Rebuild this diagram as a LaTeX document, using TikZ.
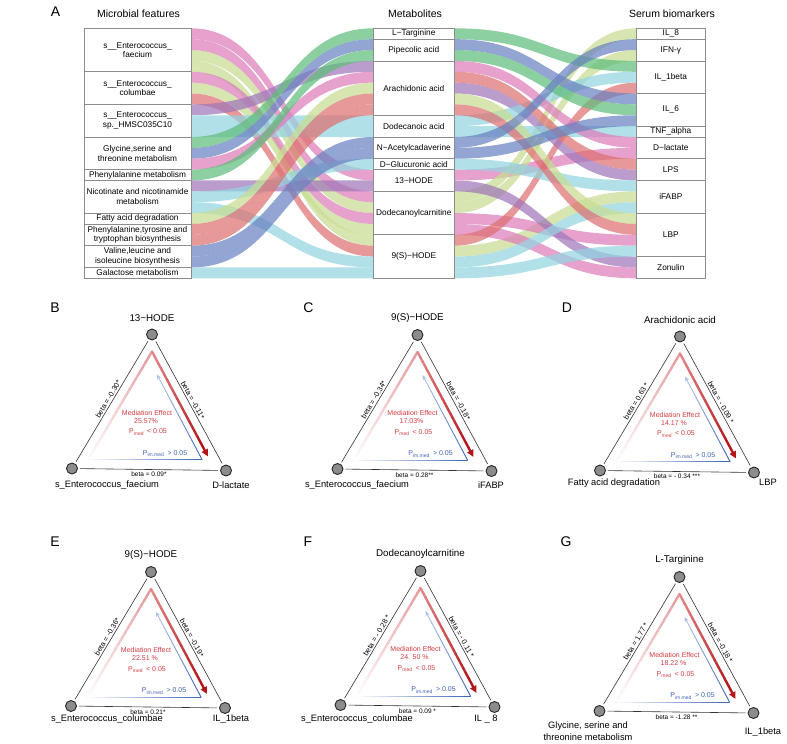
\documentclass[tikz,border=0pt]{standalone}
\usepackage{fontspec}
\setmainfont{Liberation Sans}
\usetikzlibrary{arrows.meta,calc,positioning}

\definecolor{fpink}{HTML}{DC7DBA}
\definecolor{fyg}{HTML}{C8DC92}
\definecolor{fgreen}{HTML}{5FBD7C}
\definecolor{fblue}{HTML}{6A82C0}
\definecolor{fred}{HTML}{DE7070}
\definecolor{fpurple}{HTML}{A077B8}
\definecolor{flb}{HTML}{93D4E0}
\definecolor{boxgray}{HTML}{8C8C8C}
\definecolor{redD}{HTML}{B2151B}
\definecolor{redM}{HTML}{E48A8C}
\definecolor{redL}{HTML}{E39A9E}
\definecolor{blueD}{HTML}{3A63B8}
\definecolor{blueL}{HTML}{A9BFE4}
\definecolor{medred}{HTML}{D23A40}
\definecolor{medblue}{HTML}{3D5FB2}

\tikzset{
  stratum/.style={draw=boxgray, line width=0.7pt, fill=white, inner sep=0pt, align=center,
    font=\fontsize{8.3}{9.6}\selectfont},
  header/.style={font=\fontsize{10.5}{12}\selectfont},
  panel/.style={font=\fontsize{14}{16}\selectfont},
  dot/.style={circle, draw=black!85, fill=black!45, line width=0.9pt, minimum size=11pt, inner sep=0pt},
  side/.style={draw=black!80, line width=0.6pt, shorten <=2pt, shorten >=2pt},
  beta/.style={font=\fontsize{7.3}{8.5}\selectfont, inner sep=1.5pt},
  bbeta/.style={font=\fontsize{6.5}{7.5}\selectfont, inner sep=2pt},
  toplab/.style={font=\fontsize{9.8}{11}\selectfont},
  botlab/.style={font=\fontsize{9.3}{11.5}\selectfont, align=center},
  medtxt/.style={text=medred, font=\fontsize{7}{8}\selectfont, inner sep=0pt},
  imtxt/.style={text=medblue, font=\fontsize{7}{8}\selectfont, inner sep=0pt},
}

\def\slotu{10.87}

% one flow between two axes
\newcommand{\band}[5]{%
  \pgfmathsetmacro\xm{(#1+#3)/2}%
  \fill[#5, fill opacity=0.72] (#1,#2) .. controls (\xm,#2) and (\xm,#4) .. (#3,#4)
    -- (#3,{#4+\slotu}) .. controls (\xm,{#4+\slotu}) and (\xm,{#2+\slotu}) .. (#1,{#2+\slotu}) -- cycle;}

% colour fading line
\newcommand{\fade}[5]{%
  \foreach \k in {0,...,19}{%
    \pgfmathsetmacro\fa{\k/20}%
    \pgfmathsetmacro\fb{(\k+1)/20}%
    \pgfmathtruncatemacro\fm{(\k+0.5)*5}%
    \draw[#4!\fm!#3, line width=#5, line cap=round] ($(#1)!\fa!(#2)$) -- ($(#1)!\fb!(#2)$);}}

% mediation triangle
\newcommand{\medtri}[7]{%
  \begin{scope}[shift={(#2)}]
    \node[dot] (#1top) at (0,0) {};
    \node[dot] (#1x) at (-80,134) {};
    \node[dot] (#1y) at (74,136) {};
    \node[toplab, above=3pt of #1top] (#1name) {#3};
    \draw[side] (#1top) -- node[beta, sloped, above] {#4} (#1x);
    \draw[side] (#1top) -- node[beta, sloped, above] {#5} (#1y);
    \draw[side] (#1x) -- node[bbeta, below] (#1bb) {#6} (#1y);
    \coordinate (#1ra) at (-65,127);
    \coordinate (#1rp) at (0,17);
    \coordinate (#1rb) at (56,122);
    \coordinate (#1rc) at ($(#1rp)!0.9!(#1rb)$);
    \coordinate (#1ba) at (-64,125);
    \coordinate (#1bc) at (50,125);
    \coordinate (#1bt) at (5,40);
    \coordinate (#1bd) at ($(#1bc)!0.9!(#1bt)$);
    \fade{#1ra}{#1rp}{white}{redL}{2.4pt}
    \fade{#1rp}{#1rc}{redM}{redD}{2.4pt}
    \draw[redD, line width=2.4pt, -{Triangle[length=7pt,width=6.5pt]}] (#1rc) -- (#1rb);
    \fade{#1ba}{#1bc}{white}{blueD}{0.9pt}
    \fade{#1bc}{#1bd}{blueD}{blueL}{0.9pt}
    \draw[blueL, line width=0.9pt, -{Stealth[length=5pt,width=4pt]}] (#1bd) -- (#1bt);
    \node[medtxt] (#1m1) at (-5,78) {Mediation Effect};
    \node[medtxt] (#1m2) at (-6,86.5) {#7};
    \node[medtxt] (#1m3) at (-4,97.5) {P\textsubscript{med}\, < 0.05};
    \node[imtxt] (#1m4) at (13,119) {P\textsubscript{im.med}\, > 0.05};
  \end{scope}}

\begin{document}
\begin{tikzpicture}[x=1pt, y=-1pt]
\useasboundingbox (0,0) rectangle (787,744);

% ---- A: alluvial plot
\node[panel] (pa) at (55.5,12) {A};
\node[header] (hmic) at (138.5,14) {Microbial features};
\node[header] (hmet) at (415,14) {Metabolites};
\node[header] (hser) at (672,14) {Serum biomarkers};

\foreach \l/\ml/\mr/\r/\c in {0/13/13/11/fpink, 3/19/20/15/fyg, 2/16/16/2/fyg, 1/15/17/19/fpink,
    5/18/15/0/fyg, 4/17/18/22/fpink, 6/20/19/5/fred, 7/3/5/13/fpurple, 8/8/8/4/flb,
    9/9/9/9/flb, 10/0/0/3/fgreen, 11/1/1/6/fblue, 12/4/3/10/fpink, 13/2/2/7/fgreen,
    14/14/14/21/fpurple, 15/12/12/14/flb, 16/21/21/16/flb, 17/5/6/17/fyg, 18/6/4/12/fred,
    19/7/7/18/fred, 20/10/10/1/fblue, 21/11/11/8/fblue, 22/22/22/20/flb}{
  \pgfmathsetmacro\ya{28.3+\l*\slotu}
  \pgfmathsetmacro\yb{28.3+\ml*\slotu}
  \pgfmathsetmacro\yc{28.3+\mr*\slotu}
  \pgfmathsetmacro\yd{28.3+\r*\slotu}
  \band{191}{\ya}{373.3}{\yb}{\c}
  \band{454.3}{\yc}{636.3}{\yd}{\c}
}

\foreach \nm/\s/\n/\txt in {faecium/0/4/{s\_\_Enterococcus\_\\faecium},
    columbae/4/3/{s\_\_Enterococcus\_\\columbae},
    hmsc/7/3/{s\_\_Enterococcus\_\\sp.\_HMSC035C10},
    glycine/10/3/{Glycine,serine and\\threonine metabolism},
    phenyl/13/1/{Phenylalanine metabolism},
    nicotin/14/3/{Nicotinate and nicotinamide\\metabolism},
    fatty/17/1/{Fatty acid degradation},
    phetyr/18/2/{Phenylalanine,tyrosine and\\tryptophan biosynthesis},
    valine/20/2/{Valine,leucine and\\isoleucine biosynthesis},
    galact/22/1/{Galactose metabolism}}{
  \pgfmathsetmacro\hh{\n*\slotu}
  \node[stratum, minimum width=107pt, minimum height=\hh pt] (\nm)
    at (137.5,{28.3+(\s+\n/2)*\slotu}) {\txt};
}

\foreach \nm/\s/\n/\txt in {ltarg/0/1/{L−Targinine}, pipec/1/2/{Pipecolic acid},
    arach/3/5/{Arachidonic acid}, dodac/8/2/{Dodecanoic acid},
    nacet/10/2/{N−Acetylcadaverine}, dgluc/12/1/{D−Glucuronic acid},
    hodeA/13/2/{13−HODE}, dodcar/15/4/{Dodecanoylcarnitine}, hodeB/19/4/{9(S)−HODE}}{
  \pgfmathsetmacro\hh{\n*\slotu}
  \node[stratum, minimum width=81pt, minimum height=\hh pt] (\nm)
    at (413.8,{28.3+(\s+\n/2)*\slotu}) {\txt};
}

\foreach \nm/\s/\n/\txt in {il8/0/1/{IL\_8}, ifng/1/2/{IFN-γ}, ilb/3/3/{IL\_1beta},
    il6/6/3/{IL\_6}, tnfa/9/1/{TNF\_alpha}, dlac/10/2/{D−lactate}, lps/12/2/{LPS},
    ifabp/14/3/{iFABP}, lbp/17/4/{LBP}, zonu/21/2/{Zonulin}}{
  \pgfmathsetmacro\hh{\n*\slotu}
  \node[stratum, minimum width=69pt, minimum height=\hh pt] (\nm)
    at (670.8,{28.3+(\s+\n/2)*\slotu}) {\txt};
}

% ---- B to G: mediation triangles
\node[panel] (pb) at (55,308) {B};
\node[panel] (pc) at (308.5,308) {C};
\node[panel] (pd) at (567,308) {D};
\node[panel] (pe) at (55,542) {E};
\node[panel] (pf) at (308,542) {F};
\node[panel] (pg) at (566,542) {G};

\medtri{b}{152,334.5}{13−HODE}{beta = -0.30*}{beta = -0.11*}{beta = 0.09*}{25.57\%}
\medtri{c}{417.5,335}{9(S)−HODE}{beta = -0.34*}{beta = -0.18*}{beta = 0.28**}{17.03\%}
\medtri{d}{680,336.5}{Arachidonic acid}{beta = 0.63 *}{beta = - 0.09 *}{beta = - 0.34 ***}{14.17 \%}
\medtri{e}{151,572}{9(S)−HODE}{beta = -0.36*}{beta = -0.19*}{beta = 0.21*}{22.51 \%}
\medtri{f}{420.5,571}{Dodecanoylcarnitine}{beta = - 0.28 *}{beta = - 0.11 *}{beta = 0.09 *}{24. 50 \%}
\medtri{g}{679.5,577}{L-Targinine}{beta = 1.77 *}{beta = -0.18 *}{beta = -1.28 **}{18.22 \%}

\node[botlab] (bsrc) at (107,485) {s\_Enterococcus\_faecium};
\node[botlab] (btgt) at (231,485) {D-lactate};
\node[botlab] (csrc) at (357,485) {s\_Enterococcus\_faecium};
\node[botlab] (ctgt) at (491,485) {iFABP};
\node[botlab] (dsrc) at (614,483) {Fatty acid degradation};
\node[botlab] (dtgt) at (768,482) {LBP};
\node[botlab] (esrc) at (107,719) {s\_Enterococcus\_columbae};
\node[botlab] (etgt) at (231,719) {IL\_1beta};
\node[botlab] (fsrc) at (357,719) {s\_Enterococcus\_columbae};
\node[botlab] (ftgt) at (486,719) {IL \_ 8};
\node[botlab] (gsrc) at (588,731) {Glycine, serine and\\threonine metabolism};
\node[botlab] (gtgt) at (763,732) {IL\_1beta};
\end{tikzpicture}
\end{document}
